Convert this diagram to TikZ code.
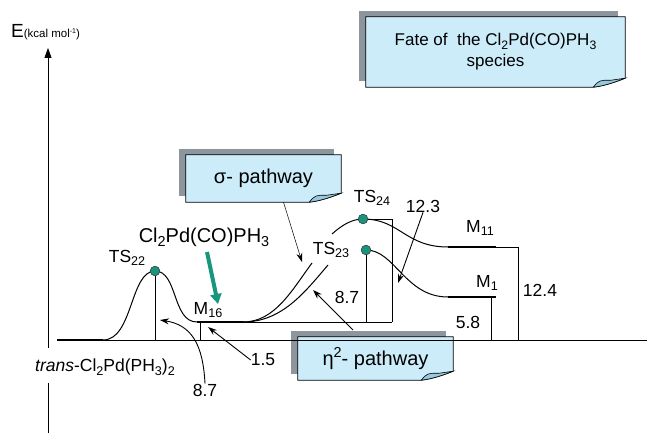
\documentclass[tikz,border=0pt]{standalone}
\usepackage{fontspec}
\setmainfont{Liberation Sans}
\usetikzlibrary{arrows.meta,backgrounds}

\definecolor{notefill}{RGB}{204,236,250}
\definecolor{notefold}{RGB}{150,200,222}
\definecolor{noteshadow}{RGB}{140,150,156}
\definecolor{dotteal}{RGB}{22,150,125}

% small lowered / raised text for formulas, scaled to the current size
\newcommand{\subtxt}[1]{\raisebox{-0.4ex}{\scalebox{0.72}{#1}}}
\newcommand{\suptxt}[1]{\raisebox{0.75ex}{\scalebox{0.72}{#1}}}

% shadow, body and curled corner behind a note node
\newcommand{\notedecor}[1]{%
  \begin{scope}[on background layer]
    \fill[noteshadow] ([xshift=-7pt,yshift=6pt]#1.south west) rectangle ([xshift=-7pt,yshift=6pt]#1.north east);
    \filldraw[fill=notefill, draw=black, line width=0.7pt]
      (#1.north west) -- (#1.north east) -- ([yshift=9pt]#1.south east)
      .. controls ([xshift=-10pt,yshift=5pt]#1.south east) and ([xshift=-22pt,yshift=1pt]#1.south east) ..
      ([xshift=-32pt]#1.south east) -- (#1.south west) -- cycle;
    \filldraw[fill=notefold, draw=black, line width=0.6pt]
      ([xshift=-32pt]#1.south east) .. controls ([xshift=-26pt,yshift=7pt]#1.south east) ..
      ([xshift=-14pt,yshift=7pt]#1.south east) -- ([yshift=9pt]#1.south east)
      .. controls ([xshift=-10pt,yshift=5pt]#1.south east) and ([xshift=-22pt,yshift=1pt]#1.south east) ..
      ([xshift=-32pt]#1.south east);
  \end{scope}}

\tikzset{
  level/.style={line width=2.6pt},
  thinline/.style={line width=0.8pt},
  profile/.style={line width=1pt},
  ptr/.style={line width=0.9pt, -{Stealth[length=9pt,width=6pt]}},
  lbl/.style={font=\fontsize{17.5}{19}\selectfont, inner sep=0pt},
  note/.style={font=\fontsize{17}{21}\selectfont, align=center, inner sep=0pt},
  pathnote/.style={note, font=\fontsize{20}{22}\selectfont},
  tsdot/.style={circle, fill=dotteal, draw=black!70, line width=0.6pt, minimum size=9.5pt, inner sep=0pt},
}

\begin{document}
\begin{tikzpicture}[x=1pt, y=-1pt]
\useasboundingbox (0,0) rectangle (647,433);

% energy axis
\coordinate (axbot) at (48,433);
\coordinate (axgapb) at (48,383);
\coordinate (axgapt) at (48,348);
\coordinate (axtop) at (48,48);
\draw[thinline] (axbot) -- (axgapb);
\draw[thinline, -{Triangle[length=10pt,width=7pt]}] (axgapt) -- (axtop);
\node[inner sep=0pt, anchor=west] (elabel) at (11,32)
  {\fontsize{19}{19}\selectfont E\fontsize{11.5}{12}\selectfont(kcal mol\raisebox{0.7ex}{\fontsize{7}{7}\selectfont -1})};

% reference level
\coordinate (r0) at (57,340);
\coordinate (r1) at (103,340);
\coordinate (rend) at (647,340);
\draw[level] (r0) -- (r1);
\draw[thinline] (r1) -- (rend);

% key points
\coordinate (m16a) at (197,322);
\coordinate (m16b) at (243,322);
\coordinate (m16end) at (392,322);
\node[tsdot] (ts22) at (155,271) {};
\node[tsdot] (ts24) at (363,219) {};
\node[tsdot] (ts23) at (366,250) {};
\coordinate (m11a) at (448,247);
\coordinate (m11b) at (496,247);
\coordinate (m11c) at (518,247);
\coordinate (m11d) at (518,340);
\coordinate (m1a) at (448,297);
\coordinate (m1b) at (496,297);
\coordinate (m1v) at (491,297);
\coordinate (m1d) at (491,340);

% energy profile
\draw[profile] (r1) .. controls (133,340) and (130,271) .. (ts22.center)
  .. controls (178,271) and (172,322) .. (m16a);
\draw[level] (m16a) -- (m16b);
\draw[thinline] (m16b) -- (m16end);
\coordinate (sigend) at (312,263);
\coordinate (etaend) at (328,265);
\draw[profile] (m16b) .. controls (275,322) and (292,290) .. (sigend);
\draw[profile] (m16b) .. controls (282,322) and (305,292) .. (etaend);
\coordinate (ts24in) at (332,234);
\draw[profile] (ts24in) .. controls (342,225) and (352,219) .. (ts24.center)
  .. controls (400,219) and (405,247) .. (m11a);
\draw[level] (m11a) -- (m11b);
\draw[thinline] (m11b) -- (m11c) -- (m11d);
\draw[profile] (ts23.center) .. controls (395,250) and (405,297) .. (m1a);
\draw[level] (m1a) -- (m1b);
\draw[thinline] (m1v) -- (m1d);

% energy gaps
\coordinate (ts22foot) at (155,340);
\draw[thinline] (ts22.center) -- (ts22foot);
\coordinate (m16tick) at (200,322);
\coordinate (m16foot) at (200,340);
\draw[thinline] (m16tick) -- (m16foot);
\coordinate (ts23foot) at (366,322);
\draw[thinline] (ts23.center) -- (ts23foot);
\coordinate (ts24corner) at (392,219);
\draw[thinline] (ts24.center) -- (ts24corner) -- (m16end);
\node[tsdot] at (ts22) {};
\node[tsdot] at (ts24) {};
\node[tsdot] at (ts23) {};

% labels
\node[lbl] (ts22lbl) at (127,258) {TS\subtxt{22}};
\node[lbl] (ts23lbl) at (331,250) {TS\subtxt{23}};
\node[lbl] (ts24lbl) at (372,198) {TS\subtxt{24}};
\node[lbl] (m16lbl) at (208,310) {M\subtxt{16}};
\node[lbl] (m11lbl) at (480,228) {M\subtxt{11}};
\node[lbl] (m1lbl) at (487,283) {M\subtxt{1}};
\node[lbl, font=\fontsize{20}{22}\selectfont] (cpd) at (204,237) {Cl\subtxt{2}Pd(CO)PH\subtxt{3}};
\node[lbl, fill=white, inner sep=2pt] (trans) at (105,367) {\textit{trans}-Cl\subtxt{2}Pd(PH\subtxt{3})\subtxt{2}};
\node[lbl] (v87a) at (205,390) {8.7};
\node[lbl] (v15) at (263,360) {1.5};
\node[lbl] (v87b) at (347,297) {8.7};
\node[lbl] (v123) at (423,206) {12.3};
\node[lbl] (v124) at (540,290) {12.4};
\node[lbl] (v58) at (468,322) {5.8};

% pointers to the gaps
\coordinate (t87a) at (160,320);
\draw[ptr] (v87a.north) .. controls (203,345) and (192,325) .. (t87a);
\coordinate (t15) at (208,327);
\draw[ptr] (v15.west) -- (t15);
\coordinate (t123) at (398,283);
\draw[ptr] (v123.south) -- (t123);

% teal arrow to the released species
\coordinate (tealfrom) at (207,252);
\coordinate (tealtip) at (218,304);
\draw[dotteal, line width=4pt, -{Triangle[length=10pt,width=11pt]}] (tealfrom) -- (tealtip);

% notes
\node[note, minimum width=259pt, minimum height=70pt] (fate) at (495.5,52)
  {Fate of\ \ the Cl\subtxt{2}Pd(CO)PH\subtxt{3}\\species};
\notedecor{fate}
\node[pathnote, minimum width=155pt, minimum height=47pt] (sigma) at (263.5,178.5) {σ- pathway};
\notedecor{sigma}
\node[pathnote, minimum width=155pt, minimum height=43pt] (eta) at (375.5,358.5) {η\suptxt{2}- pathway};
\notedecor{eta}

\coordinate (tsig) at (302,262);
\draw[line width=0.5pt, -{Stealth[length=9pt,width=6pt]}] ([xshift=20pt]sigma.south) -- (tsig);
\coordinate (teta) at (313,290);
\coordinate (etafrom) at (353,330);
\draw[ptr] (etafrom) -- (teta);
\end{tikzpicture}
\end{document}
